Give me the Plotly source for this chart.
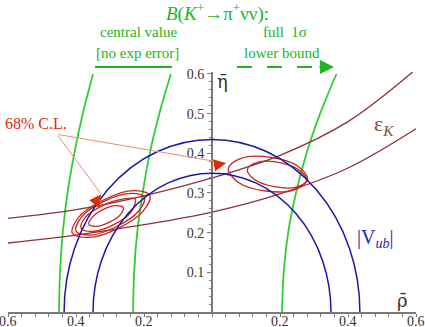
"""
Unitarity-triangle style plot: rho-bar / eta-bar plane with the
K+ -> pi+ nu nu, eps_K and |Vub| constraints.
"""
import plotly.graph_objects as go

# --- data -----------------------------------------------------------------

# B(K+ -> pi+ nu nu) bands (green)
ETA_GREEN = [0.0, 0.1, 0.2, 0.3, 0.4, 0.5, 0.6]
RHO_GREEN_CENTRAL_OUT = [-0.450, -0.447, -0.439, -0.425, -0.405, -0.380, -0.350]
RHO_GREEN_CENTRAL_IN = [-0.232, -0.229, -0.220, -0.204, -0.183, -0.155, -0.121]
RHO_GREEN_LOWER = [0.206, 0.211, 0.224, 0.247, 0.278, 0.318, 0.366]

# eps_K hyperbolas (brown)
RHO_EPSK_UP = [-0.6, -0.4, -0.2, 0.0, 0.2, 0.4, 0.59]
ETA_EPSK_UP = [0.236, 0.258, 0.293, 0.338, 0.395, 0.480, 0.605]
RHO_EPSK_LO = [-0.6, -0.4, -0.2, 0.0, 0.2, 0.4, 0.6]
ETA_EPSK_LO = [0.174, 0.194, 0.220, 0.252, 0.298, 0.363, 0.462]

# |Vub| circles around the origin (blue)
VUB_RADII = [0.35, 0.435]

# 68% C.L. contours (red), left group and right group
CONTOURS = {
    "left_1": (
        [-0.183, -0.202, -0.276, -0.363, -0.411, -0.392, -0.318, -0.231],
        [0.294, 0.255, 0.211, 0.188, 0.199, 0.239, 0.283, 0.306],
    ),
    "left_2": (
        [-0.199, -0.216, -0.282, -0.358, -0.400, -0.384, -0.318, -0.236],
        [0.289, 0.254, 0.215, 0.194, 0.204, 0.239, 0.279, 0.299],
    ),
    "left_3": (
        [-0.226, -0.240, -0.292, -0.352, -0.385, -0.372, -0.320, -0.260],
        [0.285, 0.250, 0.219, 0.203, 0.211, 0.239, 0.269, 0.285],
    ),
    "left_4": (
        [-0.261, -0.270, -0.303, -0.341, -0.362, -0.353, -0.321, -0.283],
        [0.263, 0.245, 0.226, 0.216, 0.221, 0.238, 0.258, 0.268],
    ),
    "right_1": (
        [0.281, 0.242, 0.158, 0.077, 0.048, 0.087, 0.172, 0.252],
        [0.334, 0.308, 0.305, 0.327, 0.362, 0.388, 0.390, 0.368],
    ),
    "right_2": (
        [0.278, 0.248, 0.184, 0.125, 0.104, 0.134, 0.203, 0.257],
        [0.332, 0.315, 0.316, 0.334, 0.359, 0.377, 0.376, 0.357],
    ),
}

X_TICKS = [-0.6, -0.4, -0.2, 0.0, 0.2, 0.4, 0.6]
X_TICKTEXT = ["0.6", "0.4", "0.2", "", "0.2", "0.4", "0.6"]
Y_TICKS = [0.1, 0.2, 0.3, 0.4, 0.5, 0.6]

GREEN = "#33cc33"
GREEN_TXT = "#22b422"
BLUE = "#1a1aa8"
BROWN = "#8b3434"
RED = "#cc2222"
SERIF = "'Liberation Serif', 'Times New Roman', serif"

# plot area in pixels (for placing text outside the axes)
PX_L, PX_R, PX_T, PX_B = 8, 416, 72, 312


def _paper(px, py):
    return (px - PX_L) / (PX_R - PX_L), (PX_B - py) / (PX_B - PX_T)


def _line(fig, x, y, color, width=1.5):
    fig.add_trace(go.Scatter(
        x=x, y=y, mode="lines", line=dict(color=color, width=width, shape="spline"),
        hoverinfo="skip", showlegend=False,
    ))


def _text(fig, px, py, text, size, color, family=SERIF):
    xp, yp = _paper(px, py)
    fig.add_annotation(text=text, x=xp, y=yp, xref="paper", yref="paper",
                       xanchor="center", yanchor="middle", showarrow=False,
                       font=dict(family=family, size=size, color=color))


fig = go.Figure()

for rho in (RHO_GREEN_CENTRAL_OUT, RHO_GREEN_CENTRAL_IN, RHO_GREEN_LOWER):
    _line(fig, rho, ETA_GREEN, GREEN, 1.8)

_line(fig, RHO_EPSK_UP, ETA_EPSK_UP, BROWN, 1.3)
_line(fig, RHO_EPSK_LO, ETA_EPSK_LO, BROWN, 1.3)

for rho, eta in CONTOURS.values():
    _line(fig, list(rho) + [rho[0]], list(eta) + [eta[0]], RED, 1.3)

for r in VUB_RADII:
    fig.add_shape(type="circle", xref="x", yref="y", x0=-r, x1=r, y0=-r, y1=r,
                  line=dict(color=BLUE, width=1.5))

# headings above the plot
_text(fig, 218, 12, "<i>B</i>(<i>K</i><sup>+</sup>\u2192\u03c0<sup>+</sup>\u03bd\u03bd):", 19, GREEN_TXT)
_text(fig, 138, 32, "central value", 15, GREEN_TXT)
_text(fig, 137, 53, "[no exp error]", 15, GREEN_TXT)
_text(fig, 285, 32, "full  1\u03c3", 15, GREEN_TXT)
_text(fig, 282, 53, "lower bound", 15, GREEN_TXT)

x0, y0 = _paper(95, 67)
x1, _ = _paper(172, 67)
fig.add_shape(type="line", xref="paper", yref="paper", x0=x0, x1=x1, y0=y0, y1=y0,
              line=dict(color=GREEN_TXT, width=2))
x0, _ = _paper(237, 67)
x1, _ = _paper(320, 67)
fig.add_shape(type="line", xref="paper", yref="paper", x0=x0, x1=x1, y0=y0, y1=y0,
              line=dict(color=GREEN_TXT, width=2, dash="15px,15px"))
xh, _ = _paper(334, 67)
fig.add_annotation(x=xh, y=y0, xref="paper", yref="paper", text="", showarrow=True,
                   ax=-16, ay=0, arrowhead=2, arrowsize=1.4, arrowwidth=2,
                   arrowcolor=GREEN_TXT)

# labels
_text(fig, 36, 123, "68% C.L.", 16, "#dd2a10")
_text(fig, 384, 125, "\u03b5<sub><i>K</i></sub>", 22, "#8c4a2c")
_text(fig, 375, 238, "|V<sub><i>ub</i></sub>|", 20, "#2626b0")
_text(fig, 402, 300, "\u03c1\u0304", 18, "#333333", "DejaVu Serif")
_text(fig, 222, 82, "\u03b7\u0304", 18, "#333333", "DejaVu Serif")

# x tick labels sit tight under the axis (partly cut by the bottom edge)
_, y_lab = _paper(0, 321)
for xv, lab in zip(X_TICKS, X_TICKTEXT):
    if lab:
        fig.add_annotation(x=xv, y=y_lab, xref="x", yref="paper", text=lab,
                           showarrow=False, xanchor="center", yanchor="middle",
                           font=dict(family=SERIF, size=14, color="#333333"))

# 68% C.L. pointers
tail = (-0.456, 0.448)
for tip, (dx, dy) in (((-0.326, 0.297), (-0.59, -0.81)), ((0.041, 0.375), (-0.99, -0.17))):
    fig.add_annotation(x=tip[0], y=tip[1], ax=tail[0], ay=tail[1], axref="x", ayref="y",
                       text="", showarrow=True, arrowhead=0, arrowwidth=1,
                       arrowcolor="#f08a78")
    fig.add_annotation(x=tip[0], y=tip[1], ax=dx * 14, ay=-dy * 14, text="",
                       showarrow=True, arrowhead=2, arrowsize=2.4, arrowwidth=1,
                       arrowcolor="#e02a08")

fig.update_layout(
    width=425, height=327,
    margin=dict(l=PX_L, r=425 - PX_R, t=PX_T, b=327 - PX_B, autoexpand=False),
    plot_bgcolor="white", paper_bgcolor="white",
    showlegend=False,
    font=dict(family=SERIF, size=14, color="#333333"),
)
fig.update_xaxes(
    range=[-0.6, 0.6], showgrid=False, zeroline=False, automargin=False,
    showline=True, linecolor="#7a7a7a", linewidth=2,
    tickmode="array", tickvals=X_TICKS, showticklabels=False,
    ticks="outside", ticklen=3, tickcolor="#7a7a7a",
    minor=dict(tickmode="linear", tick0=0, dtick=0.04, ticks="outside",
               ticklen=3, tickcolor="#7a7a7a", showgrid=False),
)
fig.update_yaxes(
    range=[0, 0.605], showgrid=False, zeroline=False, automargin=False,
    anchor="free", position=0.5,
    showline=True, linecolor="#7a7a7a", linewidth=2,
    tickmode="array", tickvals=Y_TICKS,
    ticks="outside", ticklen=4, tickcolor="#7a7a7a",
    minor=dict(tickmode="linear", tick0=0, dtick=0.02, ticks="outside",
               ticklen=2, tickcolor="#7a7a7a", showgrid=False),
    tickfont=dict(family=SERIF, size=14, color="#333333"),
)

# the page's default body margin would push the figure 8px off the corner
fig.write_html("out.html", config={"displayModeBar": False},
               post_script="document.body.style.margin='0';")
